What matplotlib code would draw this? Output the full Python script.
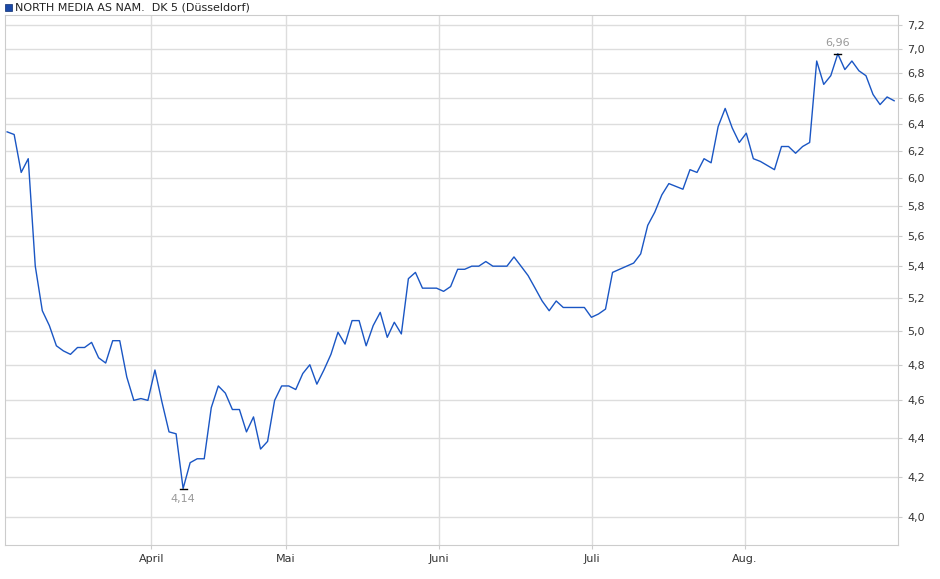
import matplotlib
matplotlib.use("Agg")
import matplotlib.pyplot as plt
from matplotlib.ticker import FixedLocator, NullLocator
import numpy as np

prices = [6.34,6.32,6.04,6.14,5.40,5.12,5.03,4.91,4.88,4.86,4.90,4.90,4.93,4.84,4.81,4.94,4.94,4.73,4.60,4.61,
          4.60,4.77,4.59,4.43,4.42,4.14,4.27,4.29,4.29,4.56,4.68,4.64,4.55,4.55,4.43,4.51,4.34,4.38,4.60,4.68,
          4.68,4.66,4.75,4.80,4.69,4.77,4.86,4.99,4.92,5.06,5.06,4.91,5.03,5.11,4.96,5.05,4.98,5.32,5.36,5.26,
          5.26,5.26,5.24,5.27,5.38,5.38,5.40,5.40,5.43,5.40,5.40,5.40,5.46,5.40,5.34,5.26,5.18,5.12,5.18,5.14,
          5.14,5.14,5.14,5.08,5.10,5.13,5.36,5.38,5.40,5.42,5.48,5.67,5.76,5.88,5.96,5.94,5.92,6.06,6.04,6.14,
          6.11,6.38,6.52,6.37,6.26,6.33,6.14,6.12,6.09,6.06,6.23,6.23,6.18,6.23,6.26,6.90,6.71,6.78,6.96,6.83,
          6.90,6.82,6.78,6.63,6.55,6.61,6.58]
month_labels = ["April", "Mai", "Juni", "Juli", "Aug."]
month_pos = [20.5, 39.6, 61.3, 83.1, 104.8]
yticks = [4.0,4.2,4.4,4.6,4.8,5.0,5.2,5.4,5.6,5.8,6.0,6.2,6.4,6.6,6.8,7.0,7.2]

x = np.arange(len(prices))
fig = plt.figure(figsize=(9.4,5.79), dpi=100)
ax = fig.add_axes([5/940, 34/579, 893/940, 530/579])
ax.plot(x, prices, color="#1a56c4", lw=1.0)
ax.set_yscale("log")
ax.set_ylim(3.87, 7.29)
ax.set_xlim(-0.3, len(prices)-0.45)
ax.yaxis.set_major_locator(FixedLocator(yticks))
ax.yaxis.set_minor_locator(NullLocator())
ax.set_yticklabels([f"{v:.1f}".replace(".", ",") for v in yticks])
ax.yaxis.tick_right()
ax.set_xticks(month_pos)
ax.set_xticklabels(month_labels)
ax.tick_params(labelsize=8, colors="#333333", length=3)
ax.tick_params(axis="x", colors="#cccccc", labelcolor="#333333")
ax.tick_params(axis="y", colors="#cccccc", labelcolor="#333333")
ax.grid(True, color="#dddddd", lw=1)
for s in ax.spines.values():
    s.set_color("#cccccc")

imin = int(np.argmin(prices)); imax = int(np.argmax(prices))
for i, off, va in [(imin, -4, "top"), (imax, 4, "bottom")]:
    ax.plot([i-0.5, i+0.5], [prices[i]]*2, color="black", lw=1)
    ax.annotate(f"{prices[i]:.2f}".replace(".", ","), (i, prices[i]), xytext=(0, off),
                textcoords="offset points", ha="center", va=va, fontsize=8, color="#999999")

fig.patches.append(plt.Rectangle((5/940, 1-11/579), 7/940, 7/579, transform=fig.transFigure,
                                 facecolor="#1a49a8", edgecolor="#0c2c6e", lw=0.5))
fig.text(15/940, 1-7.5/579, "NORTH MEDIA AS NAM.  DK 5 (Düsseldorf)", fontsize=8, va="center", color="#222222")
fig.savefig("out.png", dpi=100)
